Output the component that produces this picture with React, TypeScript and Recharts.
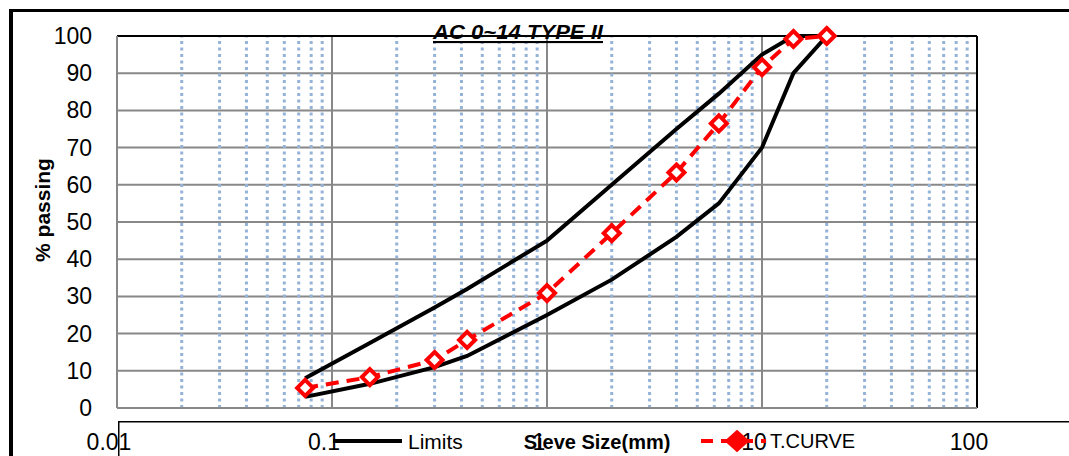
import React from 'react';
import { LineChart, Line, XAxis, YAxis, CartesianGrid, ReferenceLine, Legend } from 'recharts';

// Sieve sizes (mm) and % passing
const sieveSizes = [0.075, 0.15, 0.3, 0.425, 1, 2, 4, 6.3, 10, 14, 20];
const upperLimit = [8, 17.5, 27, 32, 45, 60, 75, 84.5, 95, 100, 100];
const lowerLimit = [3, 6.5, 11, 14, 25, 34.5, 46, 55, 70, 90, 100];
const tCurve = [5.4, 8.3, 12.9, 18.3, 30.9, 47, 63.3, 76.5, 91.6, 99.2, 100];

const xTicks = [0.01, 0.1, 1, 10, 100];
const yTicks = [0, 10, 20, 30, 40, 50, 60, 70, 80, 90, 100];
const majorGridX = [0.1, 1, 10];
const minorGridX = [
  0.02, 0.03, 0.04, 0.05, 0.06, 0.07, 0.08, 0.09,
  0.2, 0.3, 0.4, 0.5, 0.6, 0.7, 0.8, 0.9,
  2, 3, 4, 5, 6, 7, 8, 9,
  20, 30, 40, 50, 60, 70, 80, 90,
];

const chartTitle = 'AC 0~14 TYPE II';
const xTitle = 'Sieve Size(mm)';
const yTitle = '% passing';
const seriesNames = ['Limits', 'T.CURVE'];

const FONT = "'Liberation Sans', Arial, sans-serif";

const XTick = (p: any) => (
  <text
    x={p.x - 8}
    y={p.y + 34}
    textAnchor="middle"
    dominantBaseline="central"
    fontSize={23}
    fontFamily={FONT}
    fill="#000"
  >
    {String(p.payload.value)}
  </text>
);

const YTick = (p: any) => (
  <text
    x={p.x - 25}
    y={p.y}
    textAnchor="end"
    dominantBaseline="central"
    fontSize={23}
    fontFamily={FONT}
    fill="#000"
  >
    {String(p.payload.value)}
  </text>
);

const Diamond = (p: any) => {
  const { cx, cy } = p;
  if (cx == null || cy == null) return <g />;
  const r = 8;
  return (
    <path
      d={`M${cx},${cy - r} L${cx + r},${cy} L${cx},${cy + r} L${cx - r},${cy} Z`}
      fill="#fff"
      stroke="#FF0000"
      strokeWidth={4}
      strokeLinejoin="miter"
    />
  );
};

const TitleLabel = () => (
  <text
    x={518}
    y={39}
    textAnchor="middle"
    fontSize={21}
    fontWeight="bold"
    fontStyle="italic"
    fontFamily={FONT}
    textDecoration="underline"
    textLength={170}
    lengthAdjust="spacingAndGlyphs"
    fill="#000"
  >
    {chartTitle}
  </text>
);

const YTitleLabel = () => (
  <text
    x={42}
    y={210}
    transform="rotate(-90 42 210)"
    textAnchor="middle"
    dominantBaseline="central"
    fontSize={21}
    fontWeight="bold"
    fontFamily={FONT}
    fill="#000"
  >
    {yTitle}
  </text>
);

const XTitleLabel = () => (
  <text
    x={597}
    y={442}
    textAnchor="middle"
    dominantBaseline="central"
    fontSize={20}
    fontWeight="bold"
    fontFamily={FONT}
    fill="#000"
  >
    {xTitle}
  </text>
);

const LegendContent = () => (
  <svg width={951} height={35} style={{ display: 'block' }}>
    <line x1={0} y1={0.75} x2={951} y2={0.75} stroke="#000" strokeWidth={1.5} />
    <line x1={0.75} y1={0} x2={0.75} y2={35} stroke="#000" strokeWidth={1.5} />
    <line x1={215} y1={20} x2={284} y2={20} stroke="#000" strokeWidth={4} />
    <text x={290} y={20} dominantBaseline="central" fontSize={21} fontFamily={FONT} fill="#000">
      {seriesNames[0]}
    </text>
    <line x1={583} y1={20} x2={648} y2={20} stroke="#FF0000" strokeWidth={4} strokeDasharray="12 8" />
    <path d="M619,10 L630,20 L619,30 L608,20 Z" fill="#FF0000" stroke="#FF0000" strokeWidth={2} />
    <text x={652} y={20} dominantBaseline="central" fontSize={20} fontFamily={FONT} fill="#000">
      {seriesNames[1]}
    </text>
  </svg>
);

export default function App() {
  const data = sieveSizes.map((s, i) => ({
    size: s,
    upper: upperLimit[i],
    lower: lowerLimit[i],
    curve: tCurve[i],
  }));
  return (
    <div
      style={{
        position: 'fixed',
        left: 0,
        top: 0,
        width: 1069,
        height: 456,
        overflow: 'hidden',
        background: '#fff',
      }}
    >
      <div
        style={{
          position: 'absolute',
          left: 9,
          top: 9,
          width: 1200,
          height: 600,
          borderTop: '3px solid #000',
          borderLeft: '4px solid #000',
        }}
      />
      <div style={{ position: 'absolute', left: 0, top: 0 }}>
        <LineChart width={1069} height={456} data={data} margin={{ top: 36, right: 92, bottom: 0, left: 47 }}>
          <CartesianGrid horizontal vertical={false} stroke="#888888" strokeWidth={2} />
          {minorGridX.map((v) => (
            <ReferenceLine key={'m' + v} x={v} stroke="#95B3D7" strokeWidth={3} strokeDasharray="3 3.5" />
          ))}
          {majorGridX.map((v) => (
            <ReferenceLine key={'M' + v} x={v} stroke="#888888" strokeWidth={2} />
          ))}
          <ReferenceLine x={100} stroke="#000" strokeWidth={2} />
          <ReferenceLine y={100} stroke="#000" strokeWidth={2} label={<TitleLabel />} />
          <XAxis
            dataKey="size"
            type="number"
            scale="log"
            domain={[0.01, 100]}
            ticks={xTicks}
            allowDataOverflow
            height={48}
            tickSize={0}
            tickMargin={0}
            tickLine={false}
            axisLine={{ stroke: '#888888', strokeWidth: 2 }}
            tick={<XTick />}
            interval={0}
            label={<XTitleLabel />}
          />
          <YAxis
            type="number"
            domain={[0, 100]}
            ticks={yTicks}
            width={70}
            tickSize={0}
            tickMargin={0}
            tickLine={false}
            axisLine={{ stroke: '#888888', strokeWidth: 2 }}
            tick={<YTick />}
            interval={0}
            label={<YTitleLabel />}
          />
          <Line
            dataKey="upper"
            name={seriesNames[0]}
            stroke="#000"
            strokeWidth={4}
            dot={false}
            isAnimationActive={false}
          />
          <Line
            dataKey="lower"
            name="Lower"
            legendType="none"
            stroke="#000"
            strokeWidth={4}
            dot={false}
            isAnimationActive={false}
          />
          <Line
            dataKey="curve"
            name={seriesNames[1]}
            stroke="#FF0000"
            strokeWidth={4}
            strokeDasharray="13 8"
            dot={<Diamond />}
            isAnimationActive={false}
          />
          <Legend
            layout="horizontal"
            verticalAlign="middle"
            align="center"
            wrapperStyle={{ left: 118, top: 421, width: 951, height: 35 }}
            content={<LegendContent />}
          />
        </LineChart>
      </div>
    </div>
  );
}
